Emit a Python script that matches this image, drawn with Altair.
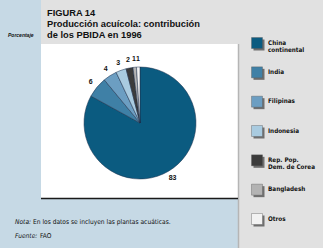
import altair as alt
import pandas as pd

categories = ["China continental", "India", "Filipinas", "Indonesia",
              "Rep. Pop. Dem. de Corea", "Bangladesh", "Otros"]
legend_labels = ["China\ncontinental", "India", "Filipinas", "Indonesia",
                 "Rep. Pop.\nDem. de Corea", "Bangladesh", "Otros"]
values = [83, 6, 4, 3, 2, 1, 1]
colors = ["#0b5b80", "#3f80a6", "#6c9ec2", "#a9cbe0", "#3b3b3b", "#b3b3b3", "#f2f2f2"]

title_lines = ["FIGURA 14", "Producción acuícola: contribución", "de los PBIDA en 1996"]
note_lines = ["Nota:", "En los datos se incluyen las plantas acuáticas."]
source_lines = ["Fuente:", "FAO"]

df = pd.DataFrame({
    "category": categories,
    "label": legend_labels,
    "value": values,
    "idx": list(range(len(categories))),
})

one = pd.DataFrame({"a": [0]})
base1 = alt.Chart(one)

LIGHT_BLUE = "#c6d9e5"
GRAY = "#e1e1e1"

bg_left = base1.mark_rect(color=LIGHT_BLUE).encode(
    x=alt.value(0), x2=alt.value(41), y=alt.value(0), y2=alt.value(248))
bg_bottom = base1.mark_rect(color=LIGHT_BLUE).encode(
    x=alt.value(0), x2=alt.value(238), y=alt.value(199), y2=alt.value(248))
bg_white = base1.mark_rect(color="white").encode(
    x=alt.value(41), x2=alt.value(238), y=alt.value(44), y2=alt.value(198))
edge = base1.mark_rule(color="#b5b5b5", strokeWidth=1.5).encode(
    x=alt.value(238.5), y=alt.value(44), y2=alt.value(248))
hline = base1.mark_rule(color="#1a1a1a", strokeWidth=1.5).encode(
    x=alt.value(41), x2=alt.value(238), y=alt.value(198.5))

FONT = "Liberation Sans"
NARROW = "DejaVu Sans Condensed, Liberation Sans, sans-serif"

title = base1.mark_text(align="left", baseline="alphabetic", font=FONT, fontWeight="bold",
                        fontSize=9.3, lineHeight=11, color="#111111").encode(
    x=alt.value(47), y=alt.value(16), text=alt.value(title_lines))

porc = base1.mark_text(align="left", baseline="middle", font=FONT, fontWeight="bold",
                       fontStyle="italic", fontSize=5, color="#111111").encode(
    x=alt.value(8), y=alt.value(35), text=alt.value("Porcentaje"))

note_a = base1.mark_text(align="left", baseline="middle", font=NARROW, fontStyle="italic",
                         fontSize=6.6, color="#111111").encode(
    x=alt.value(15), y=alt.value(222), text=alt.value(note_lines[0]))
note_b = base1.mark_text(align="left", baseline="middle", font=NARROW,
                         fontSize=6.6, color="#111111").encode(
    x=alt.value(33), y=alt.value(222), text=alt.value(note_lines[1]))
src_a = base1.mark_text(align="left", baseline="middle", font=NARROW, fontStyle="italic",
                        fontSize=6.6, color="#111111").encode(
    x=alt.value(15), y=alt.value(236), text=alt.value(source_lines[0]))
src_b = base1.mark_text(align="left", baseline="middle", font=NARROW,
                        fontSize=6.6, color="#111111").encode(
    x=alt.value(40), y=alt.value(236), text=alt.value(source_lines[1]))

base = alt.Chart(df)
color_enc = alt.Color("category:N", scale=alt.Scale(domain=categories, range=colors), legend=None)

pie = base.mark_arc(radius=56, stroke="#1c2f4a", strokeWidth=0.5).encode(
    theta=alt.Theta("value:Q", stack=True),
    order=alt.Order("idx:Q"),
    color=color_enc,
    x=alt.value(140), y=alt.value(123),
)
pie_labels = base.mark_text(radius=64, font=FONT, fontWeight="bold", fontSize=7,
                            color="#111111").encode(
    theta=alt.Theta("value:Q", stack=True),
    order=alt.Order("idx:Q"),
    text=alt.Text("value:Q"),
    x=alt.value(140), y=alt.value(123),
)

ly = alt.Y("category:N", scale=alt.Scale(type="point", domain=categories, range=[43, 219], padding=0),
           axis=None)
shadow = base.mark_square(size=121, color="#6f6f6f", opacity=1, xOffset=2, yOffset=2).encode(
    x=alt.value(257), y=ly)
swatch = base.mark_square(size=121, opacity=1, stroke="#5a5a5a", strokeWidth=0.4).encode(
    x=alt.value(257), y=ly, color=color_enc)
leg_text = base.mark_text(align="left", baseline="top", dy=-3.5, font=NARROW, fontWeight="bold",
                          fontSize=6.3, lineHeight=7, lineBreak="\n", color="#111111").encode(
    x=alt.value(268), y=ly, text="label:N")

chart = alt.layer(
    bg_left, bg_bottom, bg_white, edge, hline, title, porc, note_a, note_b, src_a, src_b,
    pie, pie_labels, shadow, swatch, leg_text,
).properties(
    width=323, height=248, background=GRAY, padding=0, autosize="none",
).configure_view(stroke=None)

chart.save("out.html", embed_options={"renderer": "svg", "actions": False})
